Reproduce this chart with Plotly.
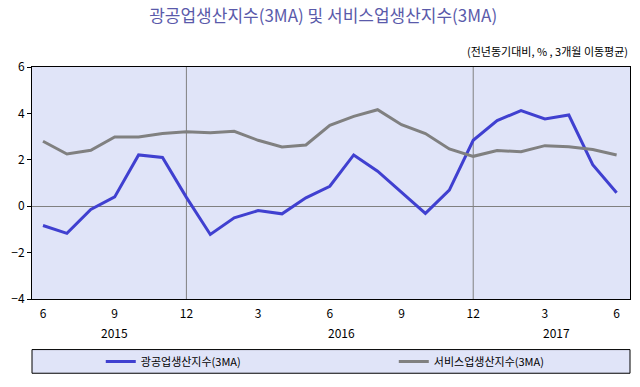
import plotly.graph_objects as go

months = ["2015-06","2015-07","2015-08","2015-09","2015-10","2015-11","2015-12",
          "2016-01","2016-02","2016-03","2016-04","2016-05","2016-06","2016-07",
          "2016-08","2016-09","2016-10","2016-11","2016-12","2017-01","2017-02",
          "2017-03","2017-04","2017-05","2017-06"]
mining = [-0.83, -1.17, -0.14, 0.40, 2.21, 2.10, 0.38, -1.22, -0.50, -0.19, -0.33, 0.36, 0.86,
          2.21, 1.51, 0.58, -0.31, 0.69, 2.84, 3.69, 4.12, 3.76, 3.93, 1.79, 0.58]
service = [2.80, 2.25, 2.41, 2.98, 2.98, 3.13, 3.21, 3.17, 3.23, 2.84, 2.55, 2.64, 3.49,
           3.87, 4.16, 3.51, 3.13, 2.47, 2.15, 2.40, 2.35, 2.61, 2.56, 2.44, 2.21]
tick_labels = ["6", "9", "12", "3", "6", "9", "12", "3", "6"]
years = ["2015", "2016", "2017"]
year_pos = [3, 12.5, 21.5]
names = ["광공업생산지수(3MA)", "서비스업생산지수(3MA)"]

x = list(range(len(months)))
FONT = "Noto Sans CJK KR, DejaVu Sans, sans-serif"

fig = go.Figure()
fig.add_trace(go.Scatter(x=x, y=mining, mode="lines", name=names[0], legend="legend",
                         showlegend=True, line=dict(color="#4040D0", width=3)))
fig.add_trace(go.Scatter(x=x, y=service, mode="lines", name=names[1], legend="legend2",
                         showlegend=True, line=dict(color="#808080", width=3)))

shapes = []
for v in [6, 18]:
    shapes.append(dict(type="line", xref="x", yref="paper", x0=v, x1=v, y0=0, y1=1,
                       line=dict(color="#808080", width=1), layer="below"))
shapes.append(dict(type="rect", xref="paper", yref="paper", x0=0, x1=1, y0=-0.32, y1=-0.218,
                   line=dict(color="black", width=1), fillcolor="#E0E4F8", layer="below"))

annotations = [dict(x=p, y=-0.143, xref="x", yref="paper", text=t, showarrow=False,
                    yanchor="middle", font=dict(size=12, color="black", family=FONT))
               for p, t in zip(year_pos, years)]
annotations.append(dict(x=1, y=1.07, xref="paper", yref="paper", text="(전년동기대비, % , 3개월 이동평균)",
                        showarrow=False, xanchor="right", yanchor="middle",
                        font=dict(size=11, color="black", family=FONT)))

leg_common = dict(orientation="h", y=-0.269, xanchor="left", yanchor="middle",
                  bgcolor="rgba(0,0,0,0)", font=dict(size=11, color="black", family=FONT))

fig.update_layout(
    width=640, height=387,
    showlegend=True,
    margin=dict(l=32, r=10, t=67, b=88, autoexpand=False),
    paper_bgcolor="white", plot_bgcolor="#E0E4F8",
    title=dict(text="광공업생산지수(3MA) 및 서비스업생산지수(3MA)", x=0.505, xanchor="center",
               y=0.958, yanchor="middle", font=dict(size=17, color="#5A5AAA", family=FONT)),
    xaxis=dict(range=[-0.46, 24.56], tickvals=list(range(0, 25, 3)), ticktext=tick_labels,
               showgrid=False, zeroline=False, showline=True, linecolor="black", mirror=True,
               ticks="", ticklabelstandoff=4, automargin=False,
               tickfont=dict(size=12, color="black", family=FONT)),
    yaxis=dict(range=[-4, 6], dtick=2, showgrid=False, zeroline=True, zerolinecolor="#808080",
               zerolinewidth=1, showline=True, linecolor="black", mirror=True, ticks="outside",
               ticklen=4, tickcolor="black", automargin=False,
               tickfont=dict(size=12, color="black", family=FONT)),
    legend=dict(x=0.115, **leg_common),
    legend2=dict(x=0.605, **leg_common),
    shapes=shapes, annotations=annotations,
)
fig.write_html("out.html", config={"displayModeBar": False})

with open("out.html", encoding="utf-8") as f:
    html = f.read()
html = html.replace("<head>", "<head><style>html,body{margin:0;padding:0;overflow:hidden;}</style>", 1)
with open("out.html", "w", encoding="utf-8") as f:
    f.write(html)
